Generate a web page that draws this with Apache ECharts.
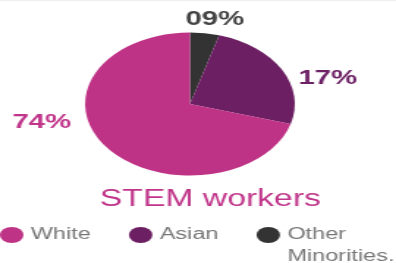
<!DOCTYPE html>
<html>
<head>
<meta charset="utf-8">
<script src="https://cdn.jsdelivr.net/npm/echarts@6/dist/echarts.min.js"></script>
<style>
    html, body { margin: 0; padding: 0; background: #fff; overflow: hidden; }
    #wrap { width: 396px; height: 263px; border-top: 1px solid #eeeeee; box-sizing: border-box; overflow: hidden; }
    /* the source picture is stretched sideways, so the chart is drawn narrow and widened */
    #pieChart { width: 275px; height: 262px; transform: scaleX(1.4667); transform-origin: 0 0; }
</style>
</head>
<body>
<div id="wrap"><div id="pieChart"></div></div>
<script>
    // slices clockwise from 12 o'clock
    let groups = ['Other Minorities.', 'Asian', 'White']
    let shares = [4.5, 25, 70.5]          // slice sizes as drawn
    let shareLabels = ['09%', '17%', '74%'] // printed labels
    let legendOrder = ['White', 'Asian', 'Other Minorities.']
    let colors = { 'White': '#bf3386', 'Asian': '#6d1f63', 'Other Minorities.': '#333333' }
    let labelColors = { 'White': '#c0358a', 'Asian': '#6e2266', 'Other Minorities.': '#444444' }

    let pieData = []
    for (let i in groups) {
        pieData.push({
            name: groups[i],
            value: shares[i],
            itemStyle: { color: colors[groups[i]] },
            label: { color: labelColors[groups[i]], formatter: shareLabels[i] }
        })
    }

    // where each percentage sits (unstretched px), by slice index
    let labelSpots = { 0: [146.5, 18], 1: [223.5, 77], 2: [28.5, 121] }

    let myCharts = echarts.init(document.getElementById('pieChart'))
    myCharts.setOption({
        backgroundColor: '#ffffff',
        animation: false,
        title: {
            text: 'STEM workers',
            left: 63,
            top: 182,
            textStyle: {
                color: '#c0358a',
                fontSize: 23,
                fontWeight: 'normal',
                fontFamily: 'Liberation Sans'
            }
        },
        legend: {
            data: legendOrder,
            left: 0,
            top: 201,
            width: 320,
            padding: 0,
            icon: 'circle',
            itemWidth: 16,
            itemHeight: 16,
            itemGap: 26,
            formatter: function (name) {
                return name === 'Other Minorities.' ? ' \nOther\nMinorities.' : name
            },
            textStyle: {
                color: '#777777',
                fontSize: 16,
                lineHeight: 22,
                fontFamily: 'Liberation Sans'
            }
        },
        series: [
            {
                type: 'pie',
                center: [129.5, 103],
                radius: 71.5,
                startAngle: 90,
                clockwise: true,
                data: pieData,
                label: {
                    show: true,
                    position: 'inside',
                    overflow: 'none',
                    fontSize: 20,
                    fontWeight: 'bold',
                    fontFamily: 'Liberation Sans'
                },
                labelLine: { show: false },
                labelLayout: function (params) {
                    let spot = labelSpots[params.dataIndex]
                    return { x: spot[0], y: spot[1], align: 'center', verticalAlign: 'middle' }
                },
                emphasis: { disabled: true }
            }
        ]
    })
</script>
</body>
</html>
